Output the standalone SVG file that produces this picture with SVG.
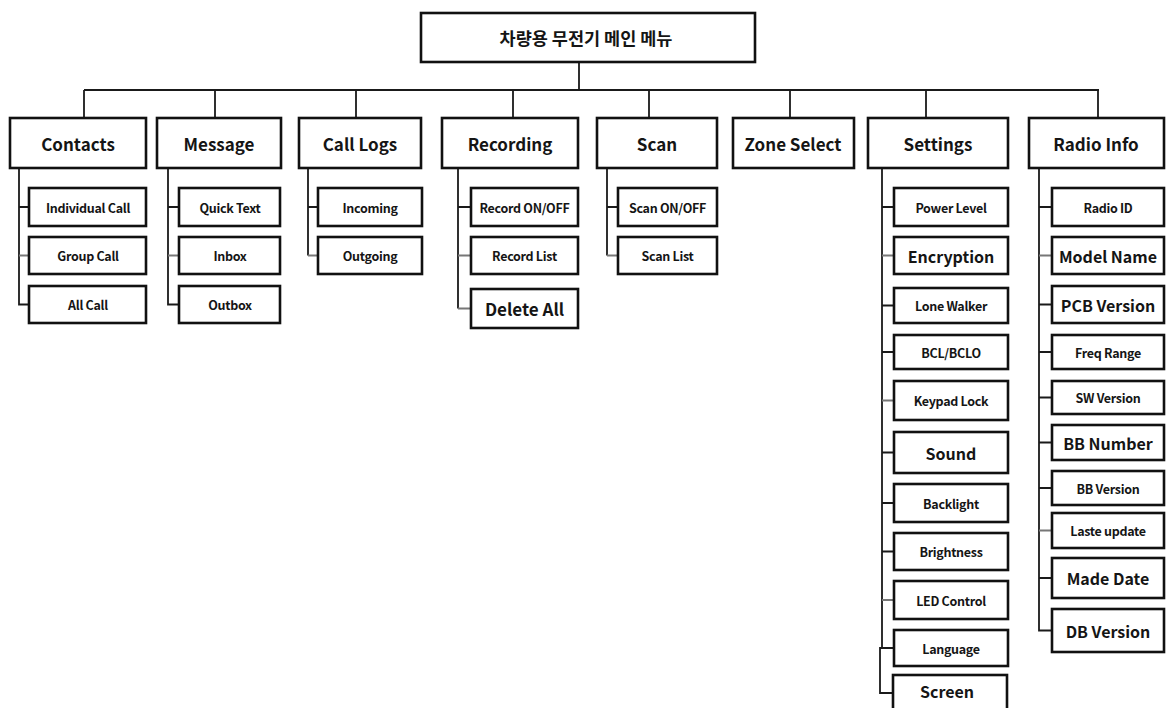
<svg xmlns="http://www.w3.org/2000/svg" width="1166" height="708" viewBox="0 0 1166 708">
<style>
.b{fill:#fff;stroke:#111;stroke-width:2.6}
.c{fill:none;stroke:#1a1a1a;stroke-width:1.8}
.g{fill:none;stroke:#777;stroke-width:2}
text{font-family:"Noto Sans CJK KR","Noto Sans",sans-serif;font-weight:bold;fill:#151515;text-anchor:middle;dominant-baseline:central}
.t0{font-size:17.5px}
.t1{font-size:17px}
.ts{font-size:12.5px;letter-spacing:-0.3px}
.tm{font-size:16px}
</style>
<rect width="1166" height="708" fill="#fff"/>
<g id="connectors">
<path class="c" d="M579 62V90M84 90H1099M84 90V118M215 90V118M356 90V118M513 90V118M649 90V118M790 90V118M926 90V118M1098 90V118"/>
<path class="c" d="M19 168V304.5H29M19 207H29"/><path class="g" d="M19 255.5H29"/>
<path class="c" d="M168 168V304.5H179M168 207H179"/><path class="g" d="M168 255.5H179"/>
<path class="c" d="M308 168V255.5M308 207H318"/><path class="g" d="M308 255.5H318"/>
<path class="c" d="M458 168V308.5M458 207H471"/><path class="g" d="M458 255.5H471M458 308.5H471"/>
<path class="c" d="M607 168V255.5M607 207H618"/><path class="g" d="M607 255.5H618"/>
<path class="c" d="M882 168V648H880V693H893M882 207H894M882 305.5H894M882 352H894M882 452.5H894M882 503H894M882 551.5H894M882 648H894"/><path class="g" d="M882 255.5H894M882 400.5H894M882 600H894"/>
<path class="c" d="M1039 168V630.5H1052M1039 207H1052M1039 304.5H1052M1039 352H1052M1039 397.5H1052M1039 442.5H1052M1039 488H1052M1039 578H1052"/><path class="g" d="M1039 255.5H1052M1039 530.5H1052"/>
</g>
<g id="root"><rect class="b" x="421" y="13" width="334" height="49"/><text class="t0" x="586" y="37">차량용 무전기 메인 메뉴</text></g>
<g id="contacts"><rect class="b" x="10" y="118" width="136" height="50"/><text class="t1" x="78" y="143">Contacts</text></g>
<g id="message"><rect class="b" x="157" y="118" width="124" height="50"/><text class="t1" x="219" y="143">Message</text></g>
<g id="calllogs"><rect class="b" x="299" y="118" width="122" height="50"/><text class="t1" x="360" y="143">Call Logs</text></g>
<g id="recording"><rect class="b" x="442" y="118" width="136" height="50"/><text class="t1" x="510" y="143">Recording</text></g>
<g id="scan"><rect class="b" x="597" y="118" width="120" height="50"/><text class="t1" x="657" y="143">Scan</text></g>
<g id="zoneselect"><rect class="b" x="733" y="118" width="121" height="50"/><text class="t1" x="793" y="143">Zone Select</text></g>
<g id="settings"><rect class="b" x="868" y="118" width="140" height="50"/><text class="t1" x="938" y="143">Settings</text></g>
<g id="radioinfo"><rect class="b" x="1029" y="118" width="135" height="50"/><text class="t1" x="1096" y="143">Radio Info</text></g>

<g id="individualcall"><rect class="b" x="29" y="188" width="117" height="38"/><text class="ts" x="88" y="207">Individual Call</text></g>
<g id="groupcall"><rect class="b" x="29" y="237" width="117" height="37"/><text class="ts" x="88" y="255.5">Group Call</text></g>
<g id="allcall"><rect class="b" x="29" y="286" width="117" height="37"/><text class="ts" x="88" y="304.5">All Call</text></g>

<g id="quicktext"><rect class="b" x="179" y="188" width="101" height="38"/><text class="ts" x="230" y="207">Quick Text</text></g>
<g id="inbox"><rect class="b" x="179" y="237" width="101" height="37"/><text class="ts" x="230" y="255.5">Inbox</text></g>
<g id="outbox"><rect class="b" x="179" y="286" width="101" height="37"/><text class="ts" x="230" y="304.5">Outbox</text></g>

<g id="incoming"><rect class="b" x="318" y="188" width="104" height="38"/><text class="ts" x="370" y="207">Incoming</text></g>
<g id="outgoing"><rect class="b" x="318" y="237" width="104" height="37"/><text class="ts" x="370" y="255.5">Outgoing</text></g>

<g id="recordonoff"><rect class="b" x="471" y="188" width="107" height="38"/><text class="ts" x="524.5" y="207">Record ON/OFF</text></g>
<g id="recordlist"><rect class="b" x="471" y="237" width="107" height="37"/><text class="ts" x="524.5" y="255.5">Record List</text></g>
<g id="deleteall"><rect class="b" x="471" y="289" width="107" height="39"/><text class="t1" x="524.5" y="308.5">Delete All</text></g>

<g id="scanonoff"><rect class="b" x="618" y="188" width="99" height="38"/><text class="ts" x="667.5" y="207">Scan ON/OFF</text></g>
<g id="scanlist"><rect class="b" x="618" y="237" width="99" height="37"/><text class="ts" x="667.5" y="255.5">Scan List</text></g>

<g id="powerlevel"><rect class="b" x="894" y="188" width="114" height="38"/><text class="ts" x="951" y="207">Power Level</text></g>
<g id="encryption"><rect class="b" x="894" y="237" width="114" height="37"/><text class="tm" x="951" y="255.5">Encryption</text></g>
<g id="lonewalker"><rect class="b" x="894" y="288" width="114" height="35"/><text class="ts" x="951" y="305.5">Lone Walker</text></g>
<g id="bclbclo"><rect class="b" x="894" y="335" width="114" height="34"/><text class="ts" x="951" y="352">BCL/BCLO</text></g>
<g id="keypadlock"><rect class="b" x="894" y="381" width="114" height="39"/><text class="ts" x="951" y="400.5">Keypad Lock</text></g>
<g id="sound"><rect class="b" x="894" y="432" width="114" height="41"/><text class="tm" x="951" y="452.5">Sound</text></g>
<g id="backlight"><rect class="b" x="894" y="484" width="114" height="38"/><text class="ts" x="951" y="503">Backlight</text></g>
<g id="brightness"><rect class="b" x="894" y="533" width="114" height="37"/><text class="ts" x="951" y="551.5">Brightness</text></g>
<g id="ledcontrol"><rect class="b" x="894" y="581" width="114" height="38"/><text class="ts" x="951" y="600">LED Control</text></g>
<g id="language"><rect class="b" x="894" y="630" width="114" height="36"/><text class="ts" x="951" y="648">Language</text></g>
<g id="screen"><rect class="b" x="893" y="675" width="114" height="40"/><text class="tm" x="947" y="691">Screen</text></g>

<g id="radioid"><rect class="b" x="1052" y="188" width="112" height="38"/><text class="ts" x="1108" y="207">Radio ID</text></g>
<g id="modelname"><rect class="b" x="1052" y="237" width="112" height="37"/><text class="tm" x="1108" y="255.5">Model Name</text></g>
<g id="pcbversion"><rect class="b" x="1052" y="286" width="112" height="37"/><text class="tm" x="1108" y="304.5">PCB Version</text></g>
<g id="freqrange"><rect class="b" x="1052" y="335" width="112" height="34"/><text class="ts" x="1108" y="352">Freq Range</text></g>
<g id="swversion"><rect class="b" x="1052" y="381" width="112" height="33"/><text class="ts" x="1108" y="397.5">SW Version</text></g>
<g id="bbnumber"><rect class="b" x="1052" y="425" width="112" height="35"/><text class="tm" x="1108" y="442.5">BB Number</text></g>
<g id="bbversion"><rect class="b" x="1052" y="471" width="112" height="34"/><text class="ts" x="1108" y="488">BB Version</text></g>
<g id="lasteupdate"><rect class="b" x="1052" y="513" width="112" height="35"/><text class="ts" x="1108" y="530.5">Laste update</text></g>
<g id="madedate"><rect class="b" x="1052" y="558" width="112" height="40"/><text class="tm" x="1108" y="578">Made Date</text></g>
<g id="dbversion"><rect class="b" x="1052" y="609" width="112" height="43"/><text class="tm" x="1108" y="630.5">DB Version</text></g>
</svg>
